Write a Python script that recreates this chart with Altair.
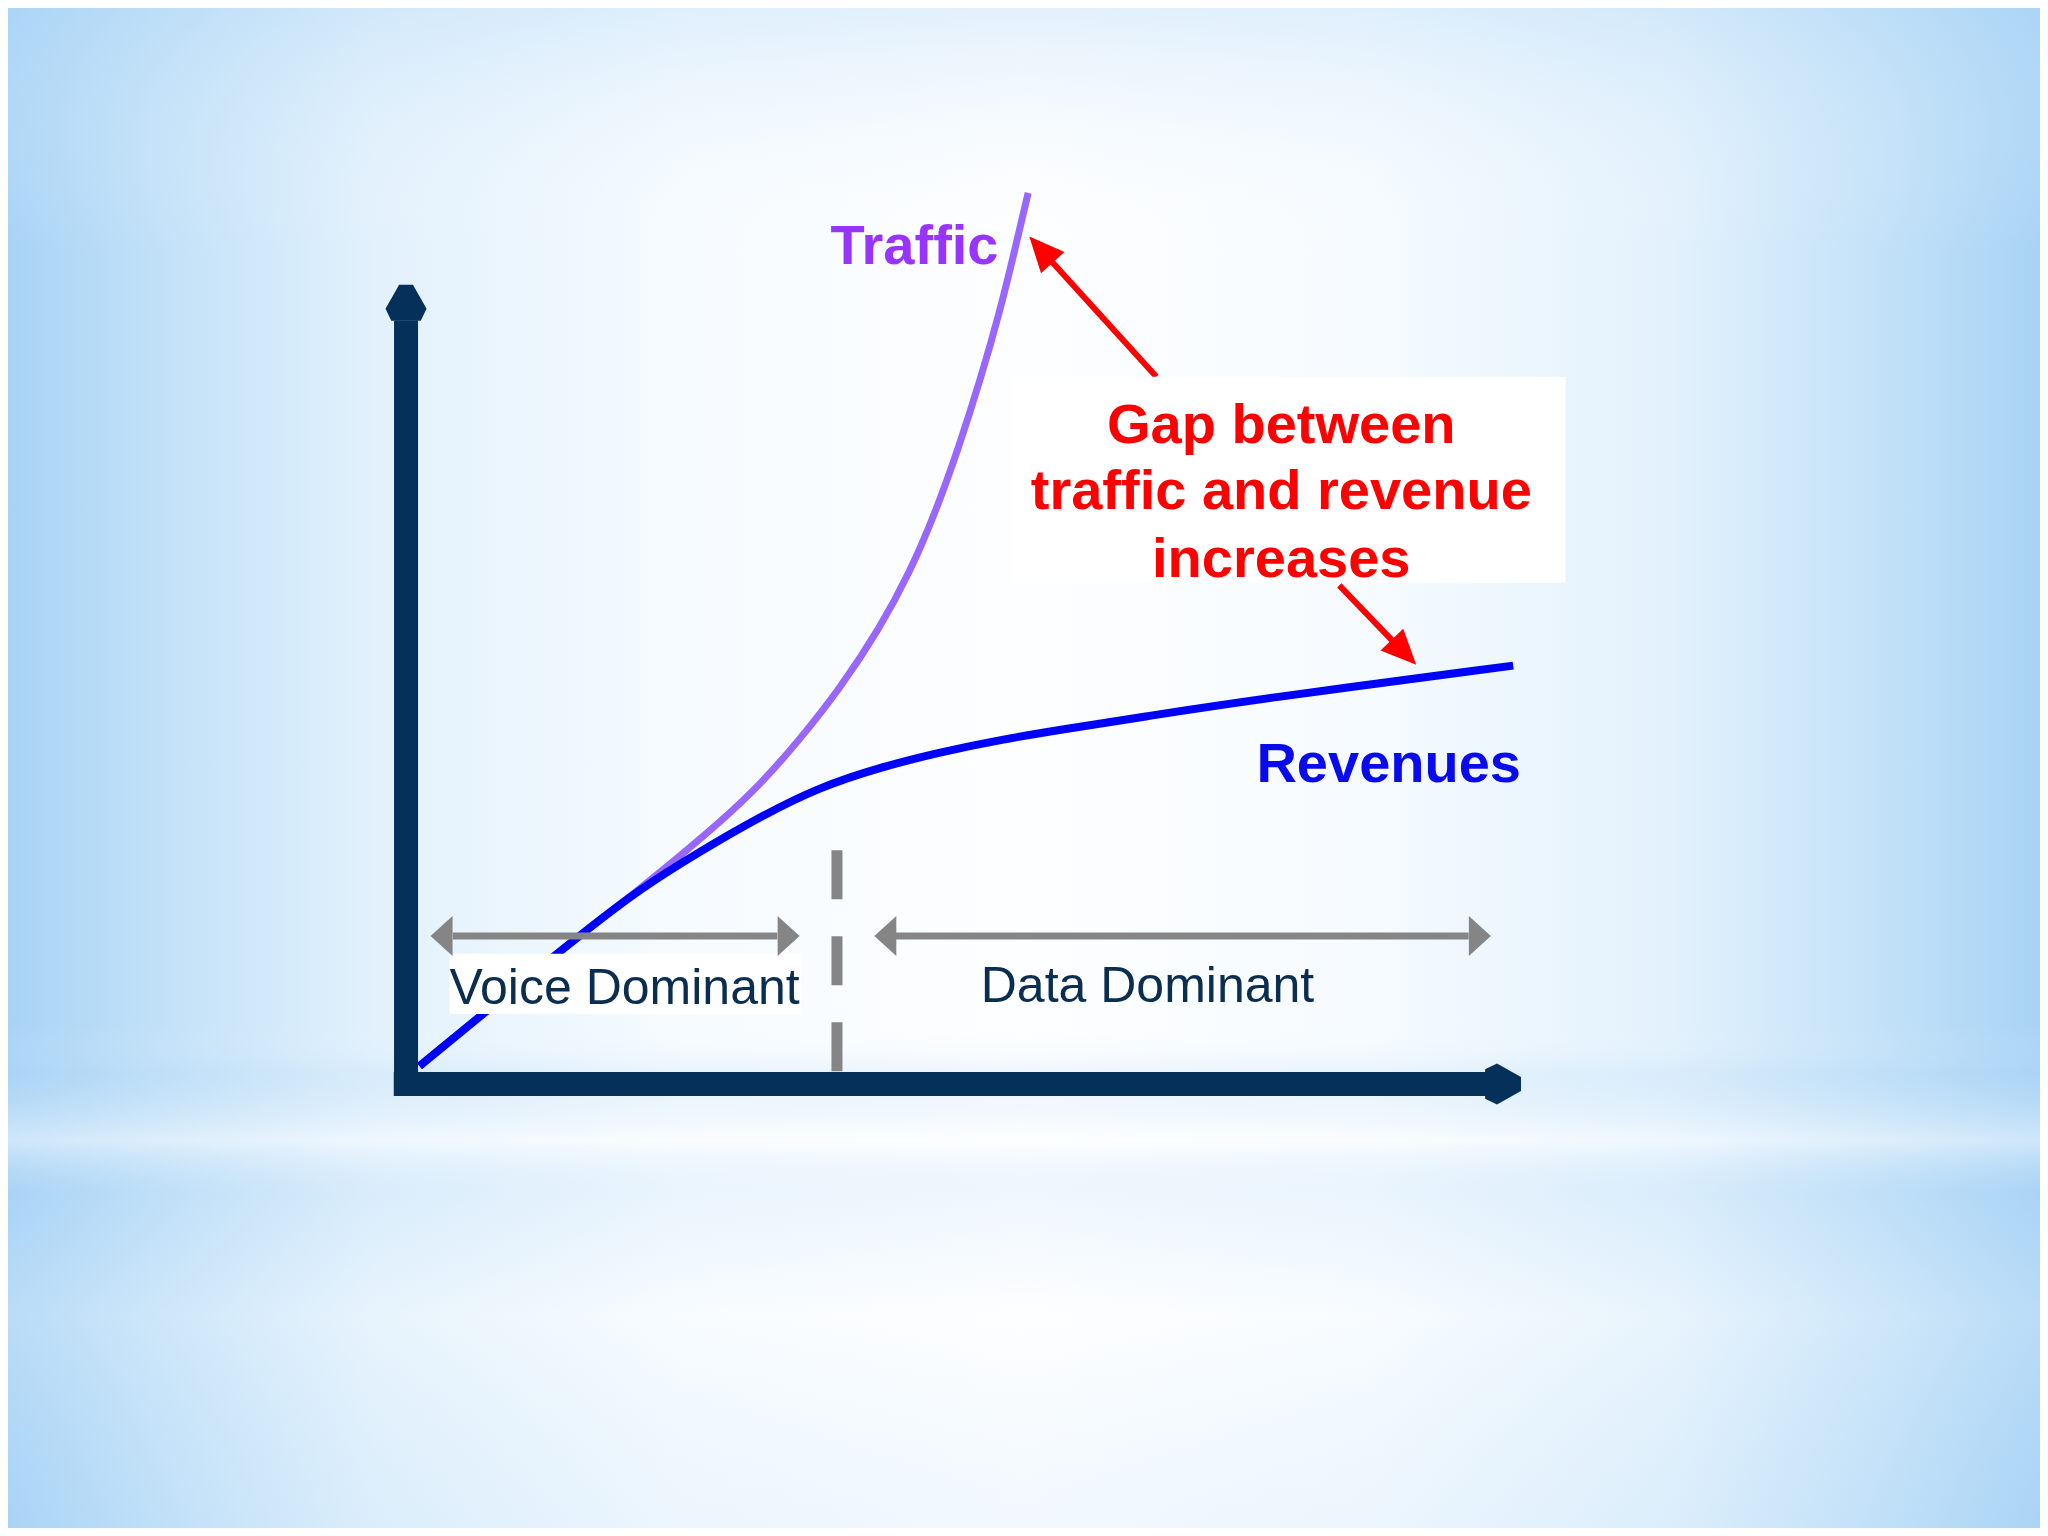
import altair as alt
import pandas as pd

# ---------------- data (chart units: x 0..100 along the x-axis, y 0..100 up the y-axis) ----
traffic_x = [1.2, 8.4, 15.7, 21.0, 24.6, 28.2, 31.8, 35.3, 38.9, 42.5, 45.2, 47.4, 49.5, 51.5, 53.3, 54.6, 55.8]
traffic_y = [2.0, 9.4, 16.8, 21.9, 25.6, 29.4, 33.6, 38.6, 44.3, 51.1, 57.4, 63.8, 71.1, 78.9, 86.8, 93.5, 99.9]
revenue_x = [1.2, 8.4, 15.7, 21.0, 26.4, 31.8, 37.1, 42.5, 47.9, 53.3, 59.6, 65.8, 76.1, 99.3]
revenue_y = [2.0, 9.4, 16.8, 21.9, 26.1, 30.0, 33.3, 35.5, 37.2, 38.6, 39.9, 41.1, 43.1, 46.9]

series_labels = ["Traffic", "Revenues"]
series_label_x = [45.6, 100.0]
series_label_y = [91.9, 33.9]

phase_labels = ["Voice Dominant", "Data Dominant"]
phase_label_x = [19.6, 66.5]
phase_label_y = [9.0, 9.2]
phase_arrow_from = [4.2, 43.9]
phase_arrow_to = [33.3, 95.3]
phase_tip_left = [2.2, 42.0]
phase_tip_right = [35.3, 97.3]
phase_arrow_y = 16.6
divider_x = 38.65
divider_top = 26.2

gap_lines = ["Gap between", "traffic and revenue", "increases"]
gap_line_x = 78.5
gap_line_y = [71.9, 64.5, 56.8]
gap_box = (54.4, 104.0, 56.2, 79.3)      # x, x2, y, y2
voice_box = (3.9, 35.4, 7.85, 14.6)
red_shaft_x = [67.3, 83.7]
red_shaft_y = [79.3, 55.9]
red_shaft_x2 = [57.7, 88.7]
red_shaft_y2 = [92.5, 49.4]
red_tip_x = [55.9, 90.6]
red_tip_y = [95.0, 47.0]
red_tip_angle = [318, 136]

W, H = 2032, 1520
XDOM = [-35.70, 146.55]
YDOM = [-49.78, 120.63]

X = lambda f="x": alt.X(f"{f}:Q", scale=alt.Scale(domain=XDOM, nice=False, zero=False), axis=None)
Y = lambda f="y": alt.Y(f"{f}:Q", scale=alt.Scale(domain=YDOM, nice=False, zero=False), axis=None)

one = pd.DataFrame({"a": [0]})

NAVY = "#05305A"
GRAY = "#858585"
RED = "#FF0000"

# ---------------- background ----------------
def stops(pairs):
    return [alt.GradientStop(color=c, offset=o) for o, c in pairs]

bg = alt.Chart(one).mark_rect(
    fill=alt.LinearGradient(gradient="linear", x1=0, x2=1, y1=0, y2=0, stops=stops([
        (0, "#a8d3f5"), (0.07, "#c0e0f8"), (0.18, "#e2f1fc"), (0.33, "#f6fbff"), (0.5, "#fdfeff"),
        (0.67, "#f6fbff"), (0.82, "#e2f1fc"), (0.93, "#c0e0f8"), (1, "#a8d3f5")]))
).encode(x=alt.value(0), x2=alt.value(W), y=alt.value(0), y2=alt.value(H))

bg_v = alt.Chart(one).mark_rect(
    fill=alt.LinearGradient(gradient="linear", x1=0, x2=0, y1=0, y2=1, stops=stops([
        (0, "rgba(178,216,246,0.35)"), (0.16, "rgba(255,255,255,0)"),
        (0.67, "rgba(255,255,255,0)"), (0.70, "rgba(178,216,246,0.2)"),
        (0.745, "rgba(255,255,255,0.45)"), (0.78, "rgba(178,216,246,0.18)"),
        (0.86, "rgba(255,255,255,0.2)"), (1, "rgba(178,216,246,0.15)")]))
).encode(x=alt.value(0), x2=alt.value(W), y=alt.value(0), y2=alt.value(H))

# ---------------- curves ----------------
tdf = pd.DataFrame({"x": traffic_x, "y": traffic_y, "i": range(len(traffic_x))})
rdf = pd.DataFrame({"x": revenue_x, "y": revenue_y, "i": range(len(revenue_x))})
traffic = alt.Chart(tdf).mark_line(interpolate="basis", strokeWidth=7, color="#9966FF").encode(
    x=X(), y=Y(), order="i:Q")
revenue = alt.Chart(rdf).mark_line(interpolate="basis", strokeWidth=8, color="#0000FF").encode(
    x=X(), y=Y(), order="i:Q")

# ---------------- axes ----------------
axes_df = pd.DataFrame({"x": [0.0, -1.1], "x2": [0.0, 97.0], "y": [-1.35, 0.0], "y2": [85.6, 0.0]})
axes = alt.Chart(axes_df).mark_rule(strokeWidth=24, color=NAVY, strokeCap="butt").encode(
    x=X(), x2="x2:Q", y=Y(), y2="y2:Q")
AXIS_HEAD = "M-0.34,0L0.34,0L1,1.17L0.72,1.75L-0.72,1.75L-1,1.17Z"
ah_df = pd.DataFrame({"x": [0.0, 100.0], "y": [89.6, 0.0], "angle": [0, 90]})
axis_heads = alt.Chart(ah_df).mark_point(shape=AXIS_HEAD, filled=True, size=1681, opacity=1,
                                         color=NAVY, strokeWidth=0).encode(
    x=X(), y=Y(), angle=alt.Angle("angle:Q", scale=None))

# ---------------- phases ----------------
divider = alt.Chart(pd.DataFrame({"x": [divider_x], "y": [divider_top], "y2": [1.2]})).mark_rule(
    strokeWidth=11, color=GRAY, strokeDash=[49, 37], strokeCap="butt").encode(x=X(), y=Y(), y2="y2:Q")

vbox = alt.Chart(pd.DataFrame({"x": [voice_box[0]], "x2": [voice_box[1]], "y": [voice_box[2]], "y2": [voice_box[3]]})
                 ).mark_rect(color="white").encode(x=X(), x2="x2:Q", y=Y(), y2="y2:Q")

shaft_df = pd.DataFrame({"x": phase_arrow_from, "x2": phase_arrow_to, "y": [phase_arrow_y] * 2})
gray_shafts = alt.Chart(shaft_df).mark_rule(strokeWidth=7, color=GRAY, strokeCap="butt").encode(
    x=X(), x2="x2:Q", y=Y())
gh_df = pd.DataFrame({"x": phase_tip_left + phase_tip_right,
                      "y": [phase_arrow_y] * 4, "angle": [270, 270, 90, 90]})
gray_heads = alt.Chart(gh_df).mark_point(shape="M0,0L1,1.1L-1,1.1Z", filled=True, size=1600, opacity=1,
                                         color=GRAY, strokeWidth=0).encode(
    x=X(), y=Y(), angle=alt.Angle("angle:Q", scale=None))

phase_text = alt.Chart(pd.DataFrame({"x": phase_label_x, "y": phase_label_y, "t": phase_labels})).mark_text(
    font="Liberation Sans", fontSize=50, color="#0B2D50", align="center", baseline="alphabetic").encode(
    x=X(), y=Y(), text="t:N")

# ---------------- series labels ----------------
sl_df = pd.DataFrame({"x": series_label_x, "y": series_label_y, "t": series_labels})
traffic_label = alt.Chart(sl_df.iloc[[0]]).mark_text(
    font="Liberation Sans", fontSize=56, fontWeight="bold", color="#9933FF",
    align="center", baseline="alphabetic").encode(x=X(), y=Y(), text="t:N")
revenue_label = alt.Chart(sl_df.iloc[[1]]).mark_text(
    font="Liberation Sans", fontSize=56, fontWeight="bold", color="#0A0AEE",
    align="right", baseline="alphabetic").encode(x=X(), y=Y(), text="t:N")

# ---------------- gap annotation ----------------
red_shafts = alt.Chart(pd.DataFrame({"x": red_shaft_x, "y": red_shaft_y, "x2": red_shaft_x2, "y2": red_shaft_y2})
                       ).mark_rule(strokeWidth=6, color=RED).encode(x=X(), y=Y(), x2="x2:Q", y2="y2:Q")
red_heads = alt.Chart(pd.DataFrame({"x": red_tip_x, "y": red_tip_y, "angle": red_tip_angle})).mark_point(
    shape="M0,0L0.9,2L-0.9,2Z", filled=True, size=1225, opacity=1, color=RED, strokeWidth=0).encode(
    x=X(), y=Y(), angle=alt.Angle("angle:Q", scale=None))
gbox = alt.Chart(pd.DataFrame({"x": [gap_box[0]], "x2": [gap_box[1]], "y": [gap_box[2]], "y2": [gap_box[3]]})
                 ).mark_rect(color="white").encode(x=X(), x2="x2:Q", y=Y(), y2="y2:Q")
gap_text = alt.Chart(pd.DataFrame({"x": [gap_line_x] * 3, "y": gap_line_y, "t": gap_lines})).mark_text(
    font="Liberation Sans", fontSize=56, fontWeight="bold", color=RED, align="center",
    baseline="alphabetic").encode(x=X(), y=Y(), text="t:N")

chart = alt.layer(
    bg, bg_v, traffic, revenue, axes, axis_heads, divider, vbox, gray_shafts, gray_heads,
    phase_text, traffic_label, revenue_label, red_shafts, red_heads, gbox, gap_text
).properties(
    width=W, height=H, padding=0, autosize=alt.AutoSizeParams(type="none"), background="white"
).configure_view(stroke=None)

chart.save("out.html", embed_options={"renderer": "svg", "actions": False})
